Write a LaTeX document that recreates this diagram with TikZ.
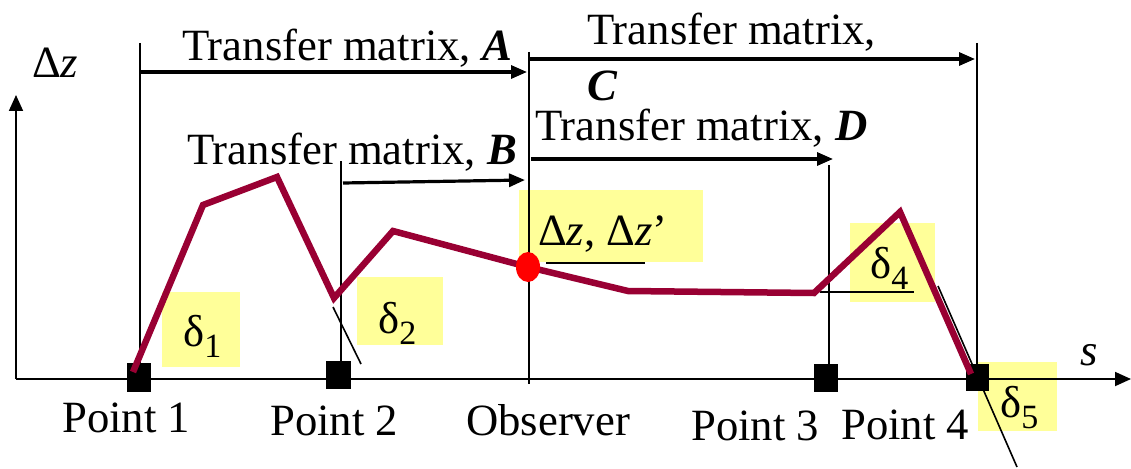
\documentclass[tikz,border=0pt]{standalone}
\usepackage{fontspec}
\setmainfont{Liberation Serif}
\usetikzlibrary{arrows.meta}
\definecolor{curvec}{HTML}{990033}
\definecolor{hilite}{HTML}{FFFF99}
\newcommand\dsub[2]{#1\raisebox{-11pt}{\fontsize{34}{34}\selectfont #2}}
\begin{document}
\begin{tikzpicture}[x=1pt,y=-1pt,
  txt/.style={inner sep=0pt,anchor=base west,font=\fontsize{44.7}{48}\selectfont},
  arr/.style={line width=3.2pt,-{Triangle[length=16pt,width=13pt]}},
  vline/.style={line width=1.8pt},
  thinline/.style={line width=1.6pt},
  hbox/.style={fill=hilite,draw=none},
  sq/.style={fill=black,draw=none},
  curve/.style={draw=curvec,line width=6.5pt}
]
\useasboundingbox (0,0) rectangle (1131,468);

% highlight boxes
\fill[hbox] (162,292) rectangle (240,367);
\fill[hbox] (357,277) rectangle (443,345);
\fill[hbox] (519,190) rectangle (703,262);
\fill[hbox] (850,223) rectangle (935,302);
\fill[hbox] (978,362) rectangle (1057,431);

% coordinates
\coordinate (O) at (16,379);
\coordinate (ytop) at (16,95);
\coordinate (xend) at (1131,379);
\coordinate (p1top) at (140,43);
\coordinate (p1bot) at (140,379);
\coordinate (obtop) at (529,52);
\coordinate (obbot) at (529,384);
\coordinate (p4top) at (977,43);
\coordinate (p4bot) at (977,364);
\coordinate (p2top) at (341,161);
\coordinate (p2bot) at (341,361);
\coordinate (p3top) at (829,165);
\coordinate (p3bot) at (829,364);

% axes
\draw[vline,-{Triangle[length=16pt,width=14pt]}] (O) -- (ytop);
\draw[vline,-{Triangle[length=16pt,width=14pt]}] (O) -- (xend);

% vertical lines
\draw[vline] (p1top) -- (p1bot);
\draw[vline] (obtop) -- (obbot);
\draw[vline] (p4top) -- (p4bot);
\draw[vline] (p2top) -- (p2bot);
\draw[vline] (p3top) -- (p3bot);

% arrows
\coordinate (aS) at (140,72);  \coordinate (aE) at (527,72);
\coordinate (cS) at (529,59);  \coordinate (cE) at (975,59);
\coordinate (bS) at (343,183); \coordinate (bE) at (525,180);
\coordinate (dS) at (531,159); \coordinate (dE) at (833,159);
\draw[arr] (aS) -- (aE);
\draw[arr] (cS) -- (cE);
\draw[arr] (bS) -- (bE);
\draw[arr] (dS) -- (dE);

% thin tangent lines
\coordinate (t2a) at (333,307); \coordinate (t2b) at (361,364);
\coordinate (uza) at (546,263); \coordinate (uzb) at (645,263);
\coordinate (u4a) at (820,292); \coordinate (u4b) at (914,292);
\coordinate (t5a) at (938,286); \coordinate (t5b) at (1017,467);
\draw[thinline] (t2a) -- (t2b);
\draw[thinline] (uza) -- (uzb);
\draw[thinline] (u4a) -- (u4b);
\draw[thinline] (t5a) -- (t5b);

% squares
\fill[sq] (127,363) rectangle (151,392);
\fill[sq] (326,361) rectangle (351,389);
\fill[sq] (814,364) rectangle (838,392);
\fill[sq] (966,364) rectangle (989,391);

% curve
\draw[curve] (133,372) -- (203,205) -- (277,177) -- (334,298) -- (393,231)
  -- (528,267) -- (628,291) -- (814,293) -- (900,212) -- (971,374);
\fill[red] (528,267) ellipse [x radius=12, y radius=15];

% texts
\node[txt] (lA) at (182,61) {Transfer matrix, \textbf{\textit{A}}};
\node[txt] (lC1) at (587,45) {Transfer matrix,};
\node[txt] (lC2) at (587,100) {\textbf{\textit{C}}};
\node[txt] (lB) at (187,164) {Transfer matrix, \textbf{\textit{B}}};
\node[txt] (lD) at (535,140) {Transfer matrix, \textbf{\textit{D}}};
\node[txt] (ly) at (32,78) {Δ\textit{z}};
\node[txt] (lx) at (1080,365) {\textit{s}};
\node[txt] (lp1) at (62,432) {Point 1};
\node[txt] (lp2) at (270,435) {Point 2};
\node[txt] (lob) at (466,435) {Observer};
\node[txt] (lp3) at (691,440) {Point 3};
\node[txt] (lp4) at (841,439) {Point 4};
\node[txt] (ld1) at (183,346) {\dsub{δ}{1}};
\node[txt] (ld2) at (378,333) {\dsub{δ}{2}};
\node[txt] (lz) at (538,245) {Δ\textit{z}, Δ\textit{z}’};
\node[txt] (ld4) at (870,278) {\dsub{δ}{4}};
\node[txt] (ld5) at (1000,417) {\dsub{δ}{5}};
\end{tikzpicture}
\end{document}
